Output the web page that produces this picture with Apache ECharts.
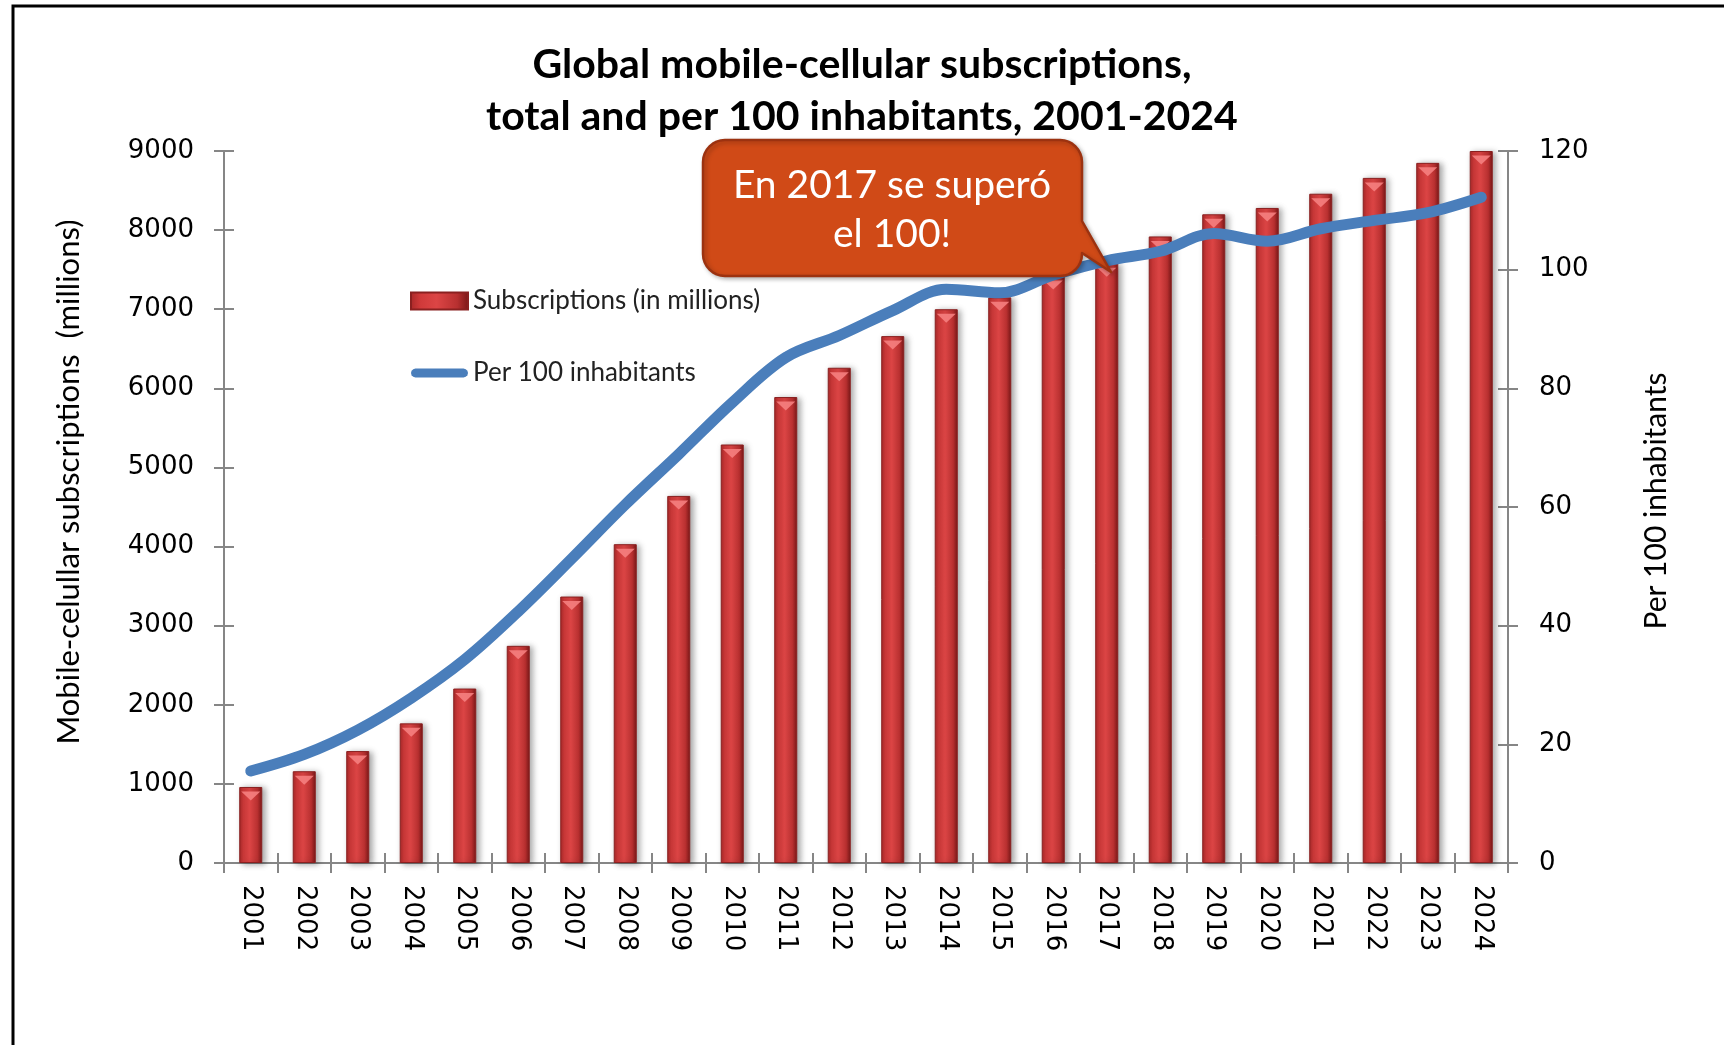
<!DOCTYPE html>
<html>
<head>
<meta charset="utf-8">
<title>Global mobile-cellular subscriptions</title>
<script src="https://cdn.jsdelivr.net/npm/echarts@6/dist/echarts.min.js"></script>
<style>
  html, body { margin: 0; padding: 0; background: #fff; }
  #chart { width: 1724px; height: 1045px; }
</style>
</head>
<body>
<div id="chart"></div>
<script>
// Years on the category axis
const years = ['2001','2002','2003','2004','2005','2006','2007','2008','2009','2010','2011','2012',
               '2013','2014','2015','2016','2017','2018','2019','2020','2021','2022','2023','2024'];

// Total mobile-cellular subscriptions, in millions
const subscriptions = [961, 1160, 1415, 1765, 2205, 2745, 3368, 4030, 4640, 5290, 5890, 6260,
                       6660, 7000, 7150, 7420, 7580, 7920, 8200, 8280, 8460, 8660, 8850, 9000];

// Subscriptions per 100 inhabitants
const perInhabitants = [15.5, 18.3, 22.4, 27.8, 34.3, 42.4, 51.3, 60.4, 68.9, 77.6, 85.2, 88.9,
                        93.1, 96.7, 96.1, 99.1, 101.5, 103.1, 106.1, 104.8, 106.9, 108.3, 109.6, 112.2];

// Axis ranges
const leftMax = 9000, leftStep = 1000;
const rightMax = 120, rightStep = 20;

const chart = echarts.init(document.getElementById('chart'), null, { renderer: 'canvas' });

const axisGray = '#868686';
const tickFont = 'DejaVu Sans';
const textFont = 'Lato';
const lineBlue = '#4a7ebb';

const barFill = {
  type: 'linear', x: 0, y: 0, x2: 1, y2: 0,
  colorStops: [
    { offset: 0, color: '#a82828' },
    { offset: 0.18, color: '#d03a3a' },
    { offset: 0.45, color: '#dc4545' },
    { offset: 0.8, color: '#b83030' },
    { offset: 1, color: '#781616' }
  ]
};

// Thick rounded stroke used as the legend icon of the line series
const capsuleIcon = 'path://M5,0 L59,0 L61.5,0.67 L63.33,2.5 L64,5 L63.33,7.5 L61.5,9.33 L59,10 ' +
                    'L5,10 L2.5,9.33 L0.67,7.5 L0,5 L0.67,2.5 L2.5,0.67 Z';

// Callout bubble outline: rounded box with a pointer towards the 2017 bar
function arcPoints(cx, cy, r, a0, a1, pts) {
  const n = 8;
  for (let i = 0; i <= n; i++) {
    const a = a0 + (a1 - a0) * i / n;
    pts.push([cx + r * Math.cos(a), cy + r * Math.sin(a)]);
  }
}
const bx0 = 703, by0 = 140, bx1 = 1082, by1 = 276, br = 22;
const bubble = [];
arcPoints(bx1 - br, by0 + br, br, -Math.PI / 2, 0, bubble);        // top-right corner
bubble.push([bx1, 221], [1111, 272], [bx1, 253]);                  // pointer
arcPoints(bx1 - br, by1 - br, br, 0, Math.PI / 2, bubble);         // bottom-right corner
arcPoints(bx0 + br, by1 - br, br, Math.PI / 2, Math.PI, bubble);   // bottom-left corner
arcPoints(bx0 + br, by0 + br, br, Math.PI, Math.PI * 1.5, bubble); // top-left corner

const option = {
  backgroundColor: '#ffffff',
  animation: false,
  title: {
    text: 'Global mobile-cellular subscriptions,\ntotal and per 100 inhabitants, 2001-2024',
    left: 'center',
    top: 34,
    textStyle: {
      fontFamily: textFont,
      fontWeight: 'bold',
      fontSize: 41,
      lineHeight: 52,
      color: '#000'
    }
  },
  legend: {
    orient: 'vertical',
    left: 405,
    top: 283,
    itemWidth: 57,
    itemHeight: 17,
    itemGap: 46,
    textStyle: { fontFamily: textFont, fontSize: 26, color: '#222' },
    data: [
      { name: 'Subscriptions (in millions)', icon: 'rect' },
      {
        name: 'Per 100 inhabitants',
        icon: capsuleIcon,
        itemStyle: { color: lineBlue, borderWidth: 0 },
        lineStyle: { width: 0, opacity: 0 }
      }
    ]
  },
  grid: { left: 224, right: 216, top: 151, bottom: 182, containLabel: false },
  xAxis: [
    {
      type: 'category',
      data: years,
      boundaryGap: true,
      axisLine: { lineStyle: { color: axisGray, width: 2 } },
      axisTick: { show: true, length: 10, alignWithLabel: false, lineStyle: { color: axisGray, width: 2 } },
      axisLabel: {
        rotate: -90,
        margin: 22,
        fontFamily: tickFont,
        fontSize: 26,
        color: '#000',
        interval: 0
      }
    },
    {
      // inner half of the crossing tick marks
      type: 'category',
      data: years,
      position: 'bottom',
      boundaryGap: true,
      axisLine: { show: false },
      axisTick: { show: true, inside: true, length: 10, lineStyle: { color: axisGray, width: 2 } },
      axisLabel: { show: false }
    }
  ],
  yAxis: [
    {
      type: 'value',
      position: 'left',
      min: 0, max: leftMax, interval: leftStep,
      name: 'Mobile-celullar subscriptions  (millions)',
      nameLocation: 'middle',
      nameRotate: 90,
      nameGap: 140,
      nameTextStyle: { fontFamily: textFont, fontSize: 31, color: '#000', padding: [0, 0, 0, 50] },
      axisLine: { show: true, lineStyle: { color: axisGray, width: 2 } },
      axisTick: { show: true, length: 10, lineStyle: { color: axisGray, width: 2 } },
      axisLabel: { margin: 30, fontFamily: tickFont, fontSize: 26, color: '#000', formatter: v => String(v) },
      splitLine: { show: false }
    },
    {
      type: 'value',
      position: 'right',
      min: 0, max: rightMax, interval: rightStep,
      name: 'Per 100 inhabitants',
      nameLocation: 'middle',
      nameRotate: 90,
      nameGap: 133,
      nameTextStyle: { fontFamily: textFont, fontSize: 30, color: '#000', padding: [0, 0, 0, 12] },
      axisLine: { show: true, lineStyle: { color: axisGray, width: 2 } },
      axisTick: { show: true, length: 10, lineStyle: { color: axisGray, width: 2 } },
      axisLabel: { margin: 31, fontFamily: tickFont, fontSize: 26, color: '#000', formatter: v => String(v) },
      splitLine: { show: false }
    },
    {
      type: 'value',
      position: 'left',
      min: 0, max: leftMax, interval: leftStep,
      axisLine: { show: false },
      axisTick: { show: true, inside: true, length: 10, lineStyle: { color: axisGray, width: 2 } },
      axisLabel: { show: false },
      splitLine: { show: false }
    },
    {
      type: 'value',
      position: 'right',
      min: 0, max: rightMax, interval: rightStep,
      axisLine: { show: false },
      axisTick: { show: true, inside: true, length: 10, lineStyle: { color: axisGray, width: 2 } },
      axisLabel: { show: false },
      splitLine: { show: false }
    }
  ],
  series: [
    {
      name: 'Subscriptions (in millions)',
      type: 'bar',
      xAxisIndex: 0,
      yAxisIndex: 0,
      data: subscriptions,
      barWidth: '43%',
      itemStyle: {
        color: barFill,
        borderColor: '#8a2020',
        borderWidth: 1,
        shadowColor: 'rgba(0,0,0,0.35)',
        shadowBlur: 6,
        shadowOffsetX: 3,
        shadowOffsetY: 1
      },
      z: 2
    },
    {
      // bevel highlight on each bar top
      name: 'bevel',
      type: 'pictorialBar',
      xAxisIndex: 0,
      yAxisIndex: 0,
      data: subscriptions,
      symbol: 'path://M0,0 L10,0 L5,5 Z',
      symbolSize: [19, 9],
      symbolPosition: 'end',
      symbolOffset: [0, '50%'],
      itemStyle: { color: '#f58080', opacity: 0.9 },
      silent: true,
      z: 3
    },
    {
      name: 'Per 100 inhabitants',
      type: 'line',
      xAxisIndex: 0,
      yAxisIndex: 1,
      data: perInhabitants,
      smooth: 0.35,
      showSymbol: false,
      symbol: 'none',
      lineStyle: { color: lineBlue, width: 11, cap: 'round', join: 'round' },
      itemStyle: { color: lineBlue },
      z: 5
    }
  ],
  graphic: [
    {
      // chart frame
      type: 'rect',
      shape: { x: 13, y: 6, width: 1760, height: 1100 },
      style: { fill: 'none', stroke: '#000', lineWidth: 3 },
      silent: true,
      z: 0
    },
    {
      type: 'polygon',
      shape: { points: bubble },
      style: {
        fill: '#d04a17',
        stroke: '#9c3210',
        lineWidth: 2.5,
        lineJoin: 'round',
        shadowColor: 'rgba(0,0,0,0.25)',
        shadowBlur: 4,
        shadowOffsetX: 2,
        shadowOffsetY: 2
      },
      z: 100
    },
    {
      type: 'text',
      x: 892,
      y: 185,
      style: {
        text: 'En 2017 se superó',
        fill: '#fff',
        font: '39px Lato',
        textAlign: 'center',
        textVerticalAlign: 'middle'
      },
      z: 101
    },
    {
      type: 'text',
      x: 892,
      y: 234,
      style: {
        text: 'el 100!',
        fill: '#fff',
        font: '39px Lato',
        textAlign: 'center',
        textVerticalAlign: 'middle'
      },
      z: 101
    }
  ]
};

chart.setOption(option);
</script>
</body>
</html>
